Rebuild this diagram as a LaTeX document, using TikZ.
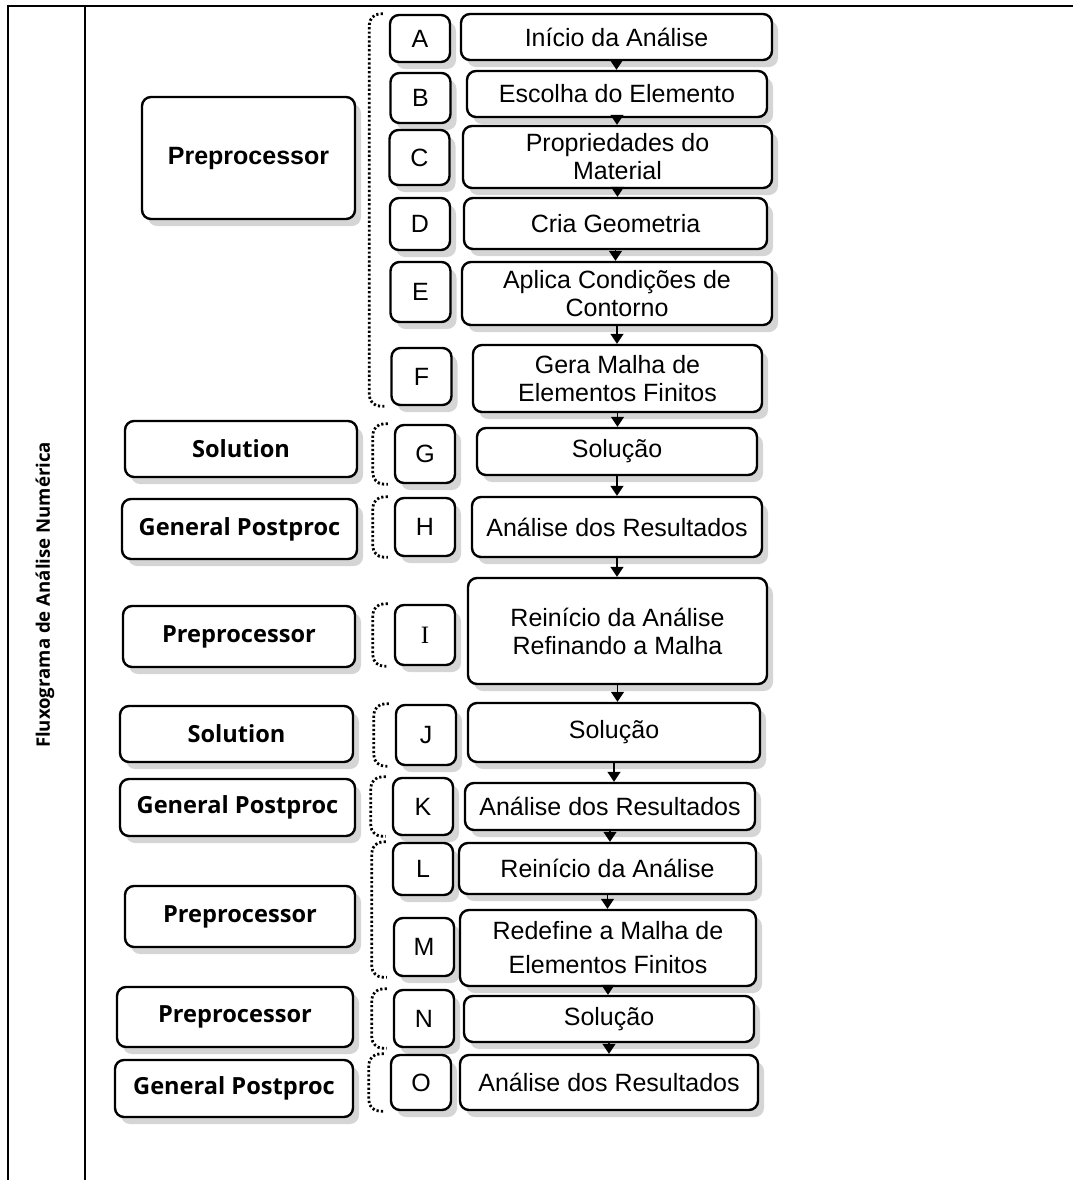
\documentclass[tikz,border=0pt]{standalone}
\usepackage{fontspec}
\setmainfont{Liberation Sans}
\newfontfamily\segfont{Open Sans}
\newfontfamily\serfont{Liberation Serif}
\usetikzlibrary{arrows.meta,shadows}
\tikzset{
  box/.style={draw, line width=1.2pt, rounded corners=4.5pt, fill=white,
              align=center, inner sep=1pt,
              drop shadow={shadow xshift=3pt, shadow yshift=-3.5pt,
                           fill=black!55, opacity=0.3}},
  phase/.style={box, font=\segfont\bfseries\fontsize{11.8}{14}\selectfont},
  tag/.style={box, minimum width=30pt, font=\fontsize{12.5}{14}\selectfont},
  task/.style={box, font=\fontsize{12.5}{14}\selectfont},
  flow/.style={-{Triangle[length=5pt,width=6.5pt]}, line width=0.8pt},
  brak/.style={line width=1.4pt, dash pattern=on 1.1pt off 1.1pt,
               rounded corners=5.5pt},
}

\begin{document}
\begin{tikzpicture}[x={(0.5pt,0)}, y={(0,-0.5pt)}]
\useasboundingbox (0,0) rectangle (1073,1180);

%% frame
\draw[line width=0.8pt] (1073,6) -- (8,6) -- (8,1180);
\draw[line width=0.8pt] (85,6) -- (85,1180);
\node[rotate=90, font=\segfont\bfseries\fontsize{9.3}{11}\selectfont] (title)
  at (45,595) {Fluxograma de Análise Numérica};

%% left column: program stages
\node[phase, font=\bfseries\fontsize{12.5}{14}\selectfont,
      minimum width=106.5pt, minimum height=61pt] (pre1) at (248.5,158) {Preprocessor};
\node[phase, minimum width=116pt, minimum height=28pt] (sol1) at (241,449) {Solution};
\node[phase, minimum width=117.5pt, minimum height=30pt] (gen1) at (239.5,529) {General Postproc};
\node[phase, minimum width=116pt, minimum height=30.5pt] (pre2) at (239,636.5) {Preprocessor};
\node[phase, minimum width=116.5pt, minimum height=28pt] (sol2) at (236.5,734) {Solution};
\node[phase, minimum width=117.5pt, minimum height=28.5pt] (gen2) at (237.5,807.5) {General Postproc};
\node[phase, minimum width=115pt, minimum height=30.5pt] (pre3) at (240,916.5) {Preprocessor};
\node[phase, minimum width=118pt, minimum height=30pt] (pre4) at (235,1017) {Preprocessor};
\node[phase, minimum width=119pt, minimum height=28.5pt] (gen3) at (234,1088.5) {General Postproc};

%% letters
\foreach \n/\x/\y/\h in {A/420/38.5/23.5, B/420.5/98/25, C/419.5/157.5/27.5,
    D/420/224/26, E/420.5/292/30, F/421.5/376.5/28.5, G/425/454/29,
    H/425/527/29, J/426/735/30, K/423/806.5/28.5, L/423/869/26,
    M/424/947/29, N/424/1018.5/28.5, O/421/1082.5/27.5}
  \node[tag, minimum height=\h pt] (\n) at (\x,\y) {\n};
\node[tag, minimum height=30pt, font=\serfont\fontsize{12.5}{14}\selectfont] (I) at (425,635) {I};

%% right column: steps
\node[task, minimum width=155.5pt, minimum height=23pt] (t1) at (616.5,37) {Início da Análise};
\node[task, minimum width=150pt, minimum height=23pt] (t2) at (617,94) {Escolha do Elemento};
\node[task, minimum width=154.5pt, minimum height=31pt] (t3) at (617.5,157) {Propriedades do\\Material};
\node[task, minimum width=151.5pt, minimum height=25.5pt] (t4) at (615.5,223.5) {Cria Geometria};
\node[task, minimum width=155pt, minimum height=31.5pt] (t5) at (617,293.5) {Aplica Condições de\\Contorno};
\node[task, minimum width=144.5pt, minimum height=33.5pt] (t6) at (617.5,378.5) {Gera Malha de\\Elementos Finitos};
\node[task, minimum width=140pt, minimum height=23.5pt] (t7) at (617,451.5) {Solução};
\node[task, minimum width=145pt, minimum height=30pt] (t8) at (617,527) {Análise dos Resultados};
\node[task, minimum width=149.5pt, minimum height=53pt] (t9) at (617.5,631) {Reinício da Análise\\Refinando a Malha};
\node[task, minimum width=146pt, minimum height=29.5pt] (t10) at (614,732.5) {Solução};
\node[task, minimum width=145pt, minimum height=23.5pt] (t11) at (610,806.5) {Análise dos Resultados};
\node[task, minimum width=148.5pt, minimum height=25.5pt] (t12) at (607.5,868.5) {Reinício da Análise};
\node[task, minimum width=148pt, minimum height=38pt, font=\fontsize{12.5}{17}\selectfont] (t13) at (608,948) {Redefine a Malha de\\Elementos Finitos};
\node[task, minimum width=145pt, minimum height=23pt] (t14) at (609,1019) {Solução};
\node[task, minimum width=149pt, minimum height=27.5pt] (t15) at (609,1082.5) {Análise dos Resultados};

%% arrows between steps
\foreach \u/\v in {t1/t2, t2/t3, t3/t4, t4/t5, t5/t6, t6/t7, t7/t8, t8/t9,
    t9/t10, t10/t11, t11/t12, t12/t13, t13/t14, t14/t15}
  \draw[flow] (\u.south) -- (\u.south |- \v.north);

%% dotted brackets
\foreach \a/\b in {A/F, G/G, H/H, I/I, J/J, K/K, L/M, N/N, O/O}
  \draw[brak] ([xshift=-3pt]\a.north west) -| ([xshift=-10.5pt]\b.south west)
    -- ([xshift=-3pt]\b.south west);

\end{tikzpicture}
\end{document}
